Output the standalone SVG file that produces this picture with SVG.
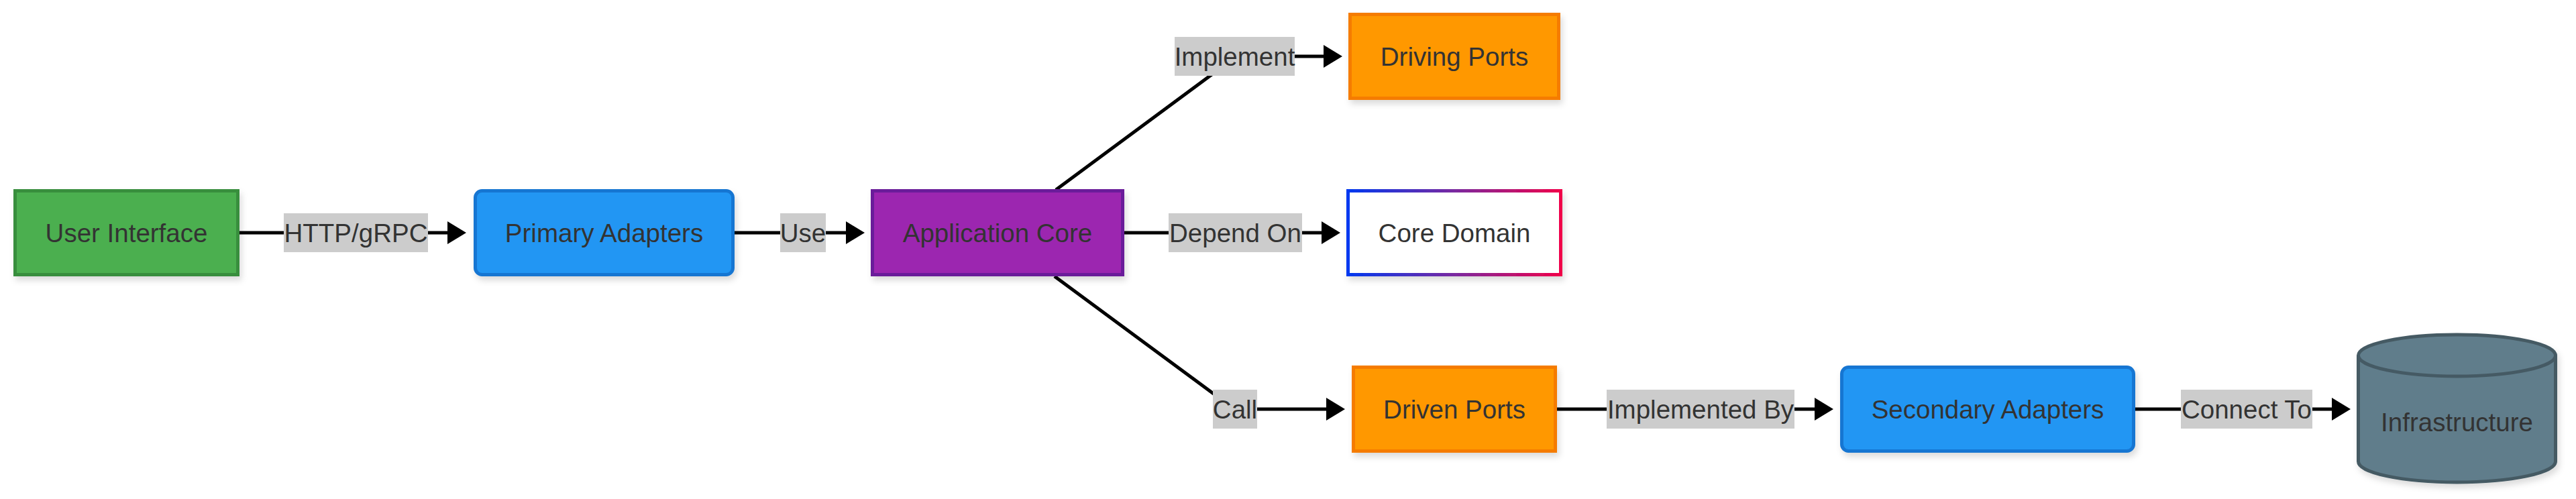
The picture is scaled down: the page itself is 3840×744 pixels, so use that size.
<svg xmlns="http://www.w3.org/2000/svg" width="3840" height="744" viewBox="0 0 3840 744">
<style>
  text { font-family: "Liberation Sans", Arial, sans-serif; font-size: 38.5px; fill: #333333; text-anchor: middle; }
  .edge { fill: none; stroke: #000000; stroke-width: 5; marker-end: url(#arrow); }
  .lbl { fill: #cccccc; }
  .node { stroke-width: 5; filter: url(#shadow); }
</style>
<defs>
  <marker id="arrow" markerUnits="userSpaceOnUse" viewBox="0 0 28 34" refX="22" refY="17" markerWidth="28" markerHeight="34" orient="auto">
    <path d="M0,0 L28,17 L0,34 z" fill="#000000"/>
  </marker>
  <filter id="shadow" x="-10%" y="-10%" width="125%" height="140%">
    <feDropShadow dx="3" dy="6" stdDeviation="5" flood-color="#000000" flood-opacity="0.14"/>
  </filter>
  <linearGradient id="coreGrad" x1="0" y1="0" x2="1" y2="0">
    <stop offset="0" stop-color="#0038f0"/>
    <stop offset="0.5" stop-color="#7a2aa0"/>
    <stop offset="1" stop-color="#f0004a"/>
  </linearGradient>
</defs>

<g id="connectors">
  <path class="edge" d="M357,347 L689,347"/>
  <rect class="lbl" x="423" y="318" width="215" height="58"/>
  <text x="530.5" y="360.5">HTTP/gRPC</text>

  <path class="edge" d="M1095,347 L1283,347"/>
  <rect class="lbl" x="1163" y="318" width="68" height="58"/>
  <text x="1197" y="360.5">Use</text>

  <path class="edge" d="M1574,283 L1843,84 L1995,84"/>
  <rect class="lbl" x="1751" y="55" width="179" height="58"/>
  <text x="1840.5" y="97.5">Implement</text>

  <path class="edge" d="M1676,347 L1992,347"/>
  <rect class="lbl" x="1742" y="318" width="199" height="58"/>
  <text x="1841.5" y="360.5">Depend On</text>

  <path class="edge" d="M1572,412 L1840,610 L1999,610"/>
  <rect class="lbl" x="1808" y="581" width="66" height="58"/>
  <text x="1841" y="623.5">Call</text>

  <path class="edge" d="M2321,610 L2727,610"/>
  <rect class="lbl" x="2395" y="581" width="280" height="58"/>
  <text x="2535" y="623.5">Implemented By</text>

  <path class="edge" d="M3183,610 L3498,610"/>
  <rect class="lbl" x="3251" y="581" width="196" height="58"/>
  <text x="3349" y="623.5">Connect To</text>
</g>

<g id="user-interface">
  <rect class="node" x="22.5" y="284.5" width="332" height="125" fill="#4caf50" stroke="#388e3c"/>
  <text x="188.5" y="360.5">User Interface</text>
</g>

<g id="primary-adapters">
  <rect class="node" x="708.5" y="284.5" width="384" height="125" rx="10" ry="10" fill="#2196f3" stroke="#1976d2"/>
  <text x="900.5" y="360.5">Primary Adapters</text>
</g>

<g id="application-core">
  <rect class="node" x="1300.5" y="284.5" width="373" height="125" fill="#9c27b0" stroke="#6a1b9a"/>
  <text x="1487" y="360.5">Application Core</text>
</g>

<g id="driving-ports">
  <rect class="node" x="2012.5" y="21.5" width="311" height="125" fill="#ff9800" stroke="#f57c00"/>
  <text x="2168" y="97.5">Driving Ports</text>
</g>

<g id="core-domain">
  <rect class="node" x="2009.5" y="284.5" width="317" height="125" fill="#ffffff" stroke="url(#coreGrad)"/>
  <text x="2168" y="360.5">Core Domain</text>
</g>

<g id="driven-ports">
  <rect class="node" x="2017.5" y="547.5" width="301" height="125" fill="#ff9800" stroke="#f57c00"/>
  <text x="2168" y="623.5">Driven Ports</text>
</g>

<g id="secondary-adapters">
  <rect class="node" x="2745.5" y="547.5" width="435" height="125" rx="10" ry="10" fill="#2196f3" stroke="#1976d2"/>
  <text x="2963" y="623.5">Secondary Adapters</text>
</g>

<g id="infrastructure">
  <path class="node" d="M3515.5,530 A147,31 0 0 1 3809.5,530 L3809.5,688 A147,31 0 0 1 3515.5,688 Z" fill="#607d8b" stroke="#455a64"/>
  <path d="M3515.5,530 A147,31 0 0 0 3809.5,530" fill="none" stroke="#455a64" stroke-width="5"/>
  <text x="3662.5" y="643">Infrastructure</text>
</g>
</svg>
